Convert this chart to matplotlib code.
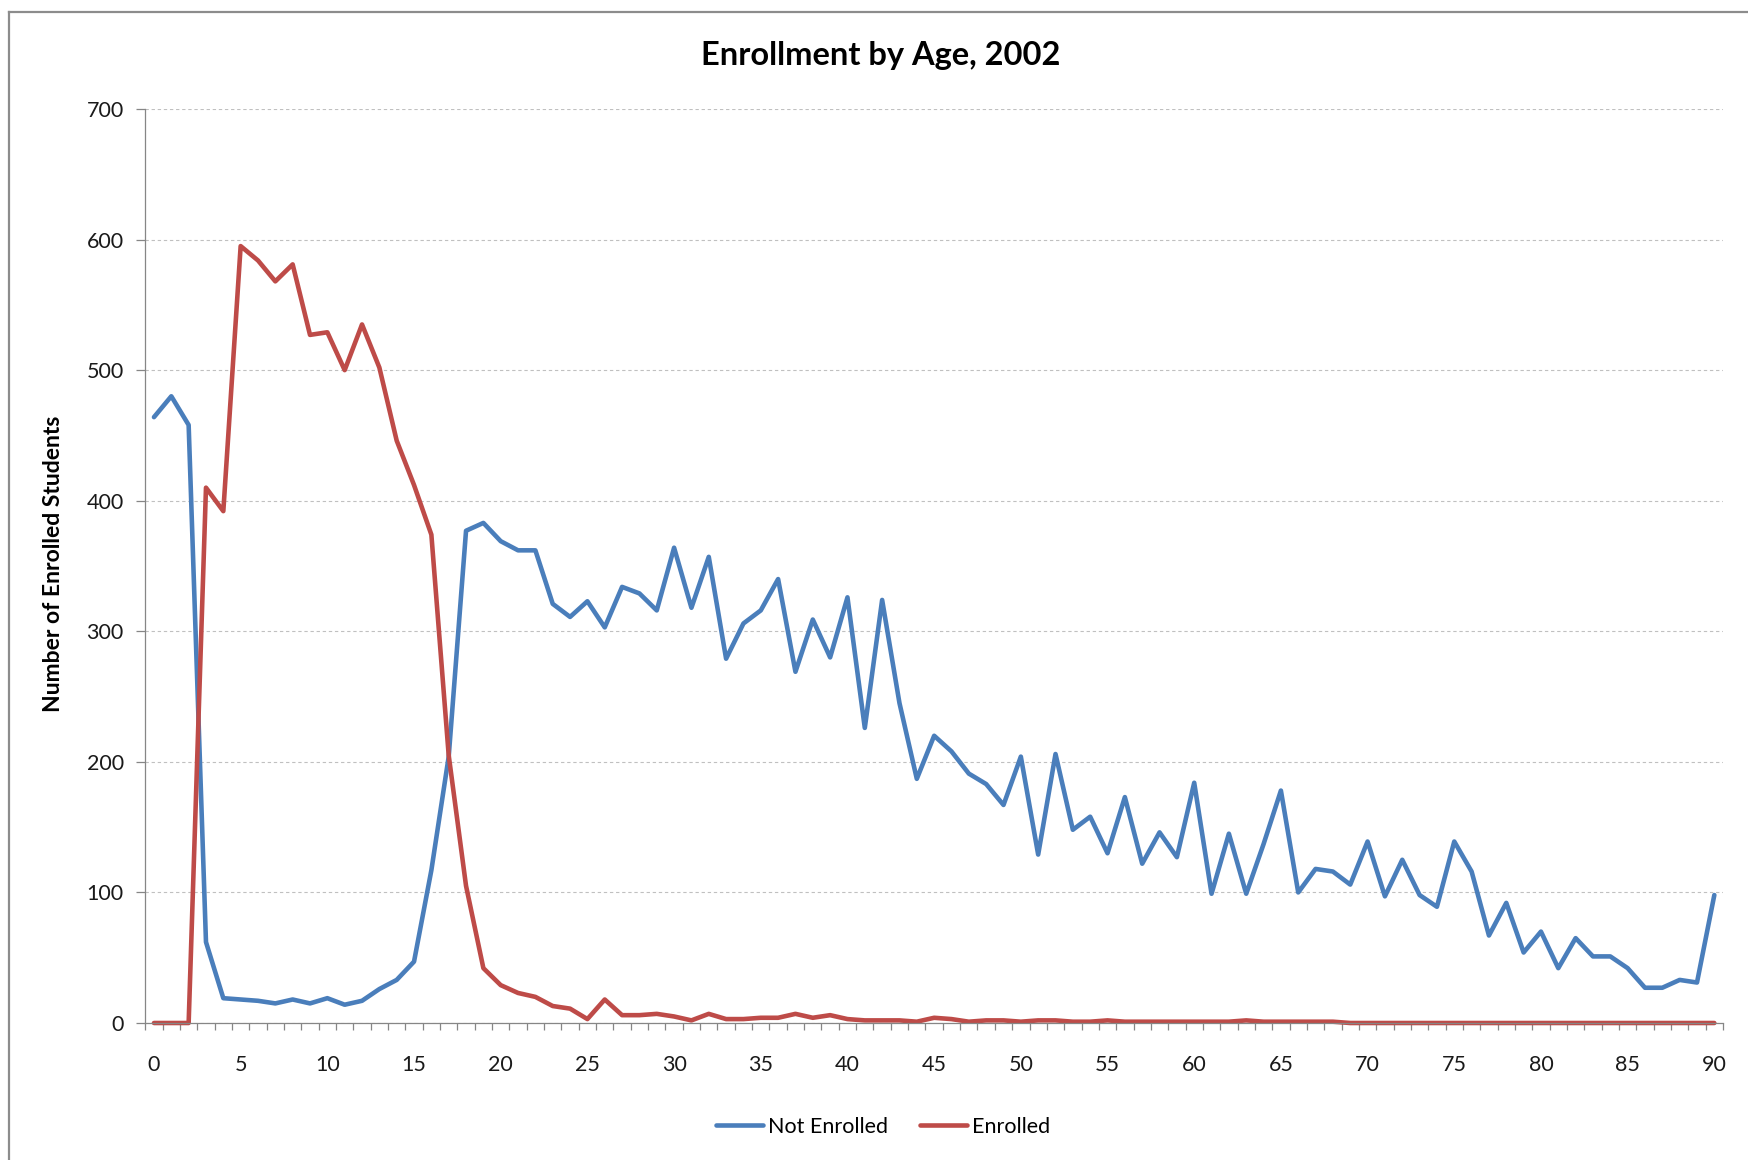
import numpy as np
import matplotlib
matplotlib.use("Agg")
import matplotlib.pyplot as plt
from matplotlib.lines import Line2D

plt.rcParams['font.family'] = ['Lato', 'DejaVu Sans']

# ages 0..90
ages = np.arange(0, 91)

not_enrolled = [
    464, 480, 458, 62, 19, 18, 17, 15, 18, 15,
    19, 14, 17, 26, 33, 47, 117, 204, 377, 383,
    369, 362, 362, 321, 311, 323, 303, 334, 329, 316,
    364, 318, 357, 279, 306, 316, 340, 269, 309, 280,
    326, 226, 324, 245, 187, 220, 208, 191, 183, 167,
    204, 129, 206, 148, 158, 130, 173, 122, 146, 127,
    184, 99, 145, 99, 137, 178, 100, 118, 116, 106,
    139, 97, 125, 98, 89, 139, 116, 67, 92, 54,
    70, 42, 65, 51, 51, 42, 27, 27, 33, 31,
    98,
]

enrolled = [
    0, 0, 0, 410, 392, 595, 584, 568, 581, 527,
    529, 500, 535, 502, 446, 412, 374, 205, 105, 42,
    29, 23, 20, 13, 11, 3, 18, 6, 6, 7,
    5, 2, 7, 3, 3, 4, 4, 7, 4, 6,
    3, 2, 2, 2, 1, 4, 3, 1, 2, 2,
    1, 2, 2, 1, 1, 2, 1, 1, 1, 1,
    1, 1, 1, 2, 1, 1, 1, 1, 1, 0,
    0, 0, 0, 0, 0, 0, 0, 0, 0, 0,
    0, 0, 0, 0, 0, 0, 0, 0, 0, 0,
    0,
]

series_names = ['Not Enrolled', 'Enrolled']
colors = ['#4A7EBB', '#BE4B48']

W, H = 1749, 1160
fig = plt.figure(figsize=(W / 100, H / 100), dpi=100)
ax = fig.add_axes([145.3 / W, 1 - 1023 / H, (1723 - 145.3) / W, (1023 - 109) / H])

for vals, name, c in zip([not_enrolled, enrolled], series_names, colors):
    ax.plot(ages, vals, color=c, lw=3.3, label=name,
            solid_joinstyle='round', solid_capstyle='round', clip_on=False)

ax.set_xlim(-0.5, 90.5)
ax.set_ylim(0, 700)

# y axis
ax.set_yticks(np.arange(0, 701, 100))
ax.tick_params(axis='y', direction='out', length=6.5, width=0.9, color='#868686',
               labelsize=15.5, pad=9, labelcolor='#1a1a1a')
ax.yaxis.grid(True, color='#c0c0c0', linestyle=(0, (3, 2.5)), linewidth=0.8)
ax.set_axisbelow(True)

# x axis: labels every 5, ticks between categories
ax.set_xticks(np.arange(0, 91, 5))
ax.set_xticks(np.arange(-0.5, 91, 1), minor=True)
ax.tick_params(axis='x', which='major', length=0, labelsize=15.5, pad=23,
               labelcolor='#1a1a1a')
ax.tick_params(axis='x', which='minor', direction='out', length=5, width=0.9,
               color='#868686')

for s in ['top', 'right']:
    ax.spines[s].set_visible(False)
for s in ['left', 'bottom']:
    ax.spines[s].set_color('#868686')
    ax.spines[s].set_linewidth(0.9)

fig.text(881 / W, 1 - 56 / H, 'Enrollment by Age, 2002', ha='center', va='center',
         fontsize=23.5, fontweight='bold')
fig.text(54 / W, 1 - 564 / H, 'Number of Enrolled Students', rotation=90,
         ha='center', va='center', fontsize=16.5, fontweight='bold')

ax.legend(loc='center', bbox_to_anchor=(883 / W, 1 - 1127 / H),
          bbox_transform=fig.transFigure, ncol=2, frameon=False, fontsize=15.5,
          handlelength=2.2, handletextpad=0.2, columnspacing=1.5)

# chart area border (cut off at right/bottom)
fig.add_artist(Line2D([9 / W, 9 / W], [0, 1 - 12 / H], color='#8c8c8c', lw=1.6,
                      transform=fig.transFigure))
fig.add_artist(Line2D([9 / W, 1], [1 - 12 / H, 1 - 12 / H], color='#8c8c8c', lw=1.6,
                      transform=fig.transFigure))

fig.savefig('out.png', dpi=100)
